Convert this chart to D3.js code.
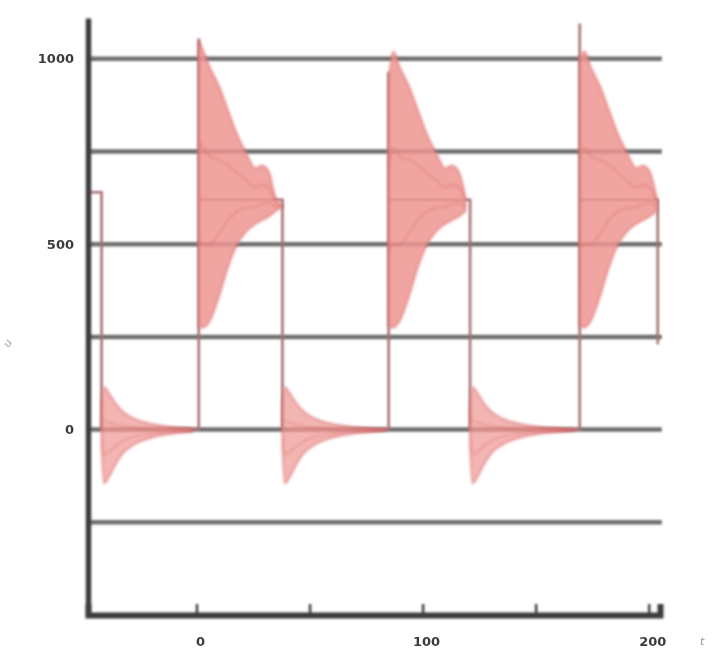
<!DOCTYPE html>
<html>
<head>
<meta charset="utf-8">
<script src="https://cdn.jsdelivr.net/npm/d3@7"></script>
<style>
  body { margin: 0; background: #fff; }
  svg { display: block; }
  .tick-label { font-family: "DejaVu Sans", sans-serif; font-size: 13px; font-weight: bold; fill: #3a3a3a; }
</style>
</head>
<body>
<svg id="chart" width="713" height="661"></svg>
<script>
// edges of the square wave (time units)
const riseTimes = [1, 85, 169.5];
const dropTimes = [-42, 38, 121, 204];
const risePeaks = [1055, 965, 1095];   // how far the rising edge shoots up
const envPeaks = [1050, 940, 1000];    // top of the red ringing right after each rise
const highLevel = 620;
const lowLevel = 0;
const startLevel = 640;
const endLevel = 230;

// ringing envelope after a rise: [dt, upper, lower]
const highEnvelope = [
  [0, 1050, 280], [2, 1020, 275], [5, 975, 295], [9, 925, 360],
  [13, 860, 440], [17, 795, 500], [21, 745, 535], [25, 705, 555],
  [28, 712, 565], [31, 695, 575], [34, 625, 590], [37, 605, 600]
];
// ringing envelope after a drop: [dt, upper, lower]
const lowEnvelope = [
  [0, 60, -40], [1, 115, -145], [3, 100, -130], [6, 72, -95],
  [10, 45, -60], [15, 28, -38], [22, 15, -22], [30, 8, -12],
  [40, 3, -6], [46, 1, -3]
];

const gridValues = [-250, 0, 250, 500, 750, 1000];
const yTickLabels = [0, 500, 1000];
const xTickValues = [0, 50, 100, 150, 200];
const xTickLabels = [0, 100, 200];

const svg = d3.select('#chart');
const defs = svg.append('defs');
defs.append('filter').attr('id', 'soft')
  .attr('x', '-5%').attr('y', '-5%').attr('width', '110%').attr('height', '110%')
  .append('feGaussianBlur').attr('stdDeviation', 1.3);
defs.append('filter').attr('id', 'softRed')
  .attr('x', '-10%').attr('y', '-10%').attr('width', '120%').attr('height', '120%')
  .append('feGaussianBlur').attr('stdDeviation', 1.8);
defs.append('filter').attr('id', 'softText')
  .append('feGaussianBlur').attr('stdDeviation', 0.7);

const x = d3.scaleLinear().domain([-48, 205]).range([88, 660]);
const y = d3.scaleLinear().domain([-500, 1110]).range([615, 18]);

const g = svg.append('g').attr('filter', 'url(#soft)');

// horizontal grid
g.selectAll('.grid')
  .data(gridValues)
  .enter()
  .append('line')
  .attr('class', 'grid')
  .attr('x1', x(-48)).attr('x2', x(205.8))
  .attr('y1', d => y(d)).attr('y2', d => y(d))
  .attr('stroke', '#6e6e6e')
  .attr('stroke-width', 4.5);

// the square wave itself (under the ringing)
const wave = [[-47.3, startLevel], [dropTimes[0], startLevel], [dropTimes[0], lowLevel]];
riseTimes.forEach((t, i) => {
  wave.push([t, lowLevel], [t, risePeaks[i]], [t, highLevel]);
  const d = dropTimes[i + 1];
  wave.push([d, highLevel], [d, i === riseTimes.length - 1 ? endLevel : lowLevel]);
});

g.append('path')
  .datum(wave)
  .attr('d', d3.line().x(d => x(d[0])).y(d => y(d[1])))
  .attr('fill', 'none')
  .attr('stroke', '#a66f72')
  .attr('stroke-width', 2.6);

// red ringing areas
const area = d3.area()
  .x(d => x(d[0]))
  .y0(d => y(d[2]))
  .y1(d => y(d[1]))
  .curve(d3.curveMonotoneX);

const streak = k => d3.line()
  .x(d => x(d[0]))
  .y(d => y(d[2] + (d[1] - d[2]) * k))
  .curve(d3.curveMonotoneX);

const bursts = [];
riseTimes.forEach((t0, i) => {
  const end = dropTimes.find(t => t > t0);
  const pts = highEnvelope
    .filter(p => t0 + p[0] <= end)
    .map((p, j) => [t0 + p[0], j === 0 ? envPeaks[i] : p[1], p[2]]);
  pts.high = true;
  bursts.push(pts);
});
dropTimes.forEach(t0 => {
  const end = riseTimes.find(t => t > t0);
  if (end === undefined) return;
  const pts = lowEnvelope
    .filter(p => t0 + p[0] <= end)
    .map(p => [t0 + p[0], p[1], p[2]]);
  pts.high = false;
  bursts.push(pts);
});

const red = svg.append('g').attr('filter', 'url(#softRed)');

red.selectAll('.burst')
  .data(bursts)
  .enter()
  .append('path')
  .attr('class', 'burst')
  .attr('d', area)
  .attr('fill', '#ee9591')
  .attr('fill-opacity', d => d.high ? 0.85 : 0.7)
  .attr('stroke', '#d9676a')
  .attr('stroke-opacity', 0.8)
  .attr('stroke-width', 1.5);

[0.3, 0.65].forEach(k => {
  red.selectAll('.streak-' + Math.round(k * 100))
    .data(bursts)
    .enter()
    .append('path')
    .attr('d', streak(k))
    .attr('fill', 'none')
    .attr('stroke', '#d8625f')
    .attr('stroke-opacity', 0.55)
    .attr('stroke-width', 1.2);
});

// axes (drawn after the ringing so they stay on top)
const axes = svg.append('g').attr('filter', 'url(#soft)');
const yAxis = axes.append('g').attr('transform', `translate(${x(-48)},0)`)
  .call(d3.axisLeft(y).tickValues([]).tickSize(0));
yAxis.select('.domain').attr('stroke', '#3c3c3c').attr('stroke-width', 5.5);

const xAxis = axes.append('g').attr('transform', `translate(0,${y(-500)})`)
  .call(d3.axisBottom(x).tickValues(xTickValues).tickSize(-11).tickFormat(''));
xAxis.select('.domain').attr('stroke', '#3c3c3c').attr('stroke-width', 6);
xAxis.selectAll('.tick line').attr('stroke', '#3c3c3c').attr('stroke-width', 2.5);

// tick labels
const labels = svg.append('g').attr('filter', 'url(#softText)');
labels.selectAll('.ylab')
  .data(yTickLabels)
  .enter()
  .append('text')
  .attr('class', 'tick-label ylab')
  .attr('x', 74)
  .attr('y', d => y(d))
  .attr('dy', '0.35em')
  .attr('text-anchor', 'end')
  .text(d => d);

labels.selectAll('.xlab')
  .data(xTickLabels)
  .enter()
  .append('text')
  .attr('class', 'tick-label xlab')
  .attr('x', d => x(d) + 4)
  .attr('y', 646)
  .attr('text-anchor', 'middle')
  .text(d => d);

// faint axis names
labels.append('text')
  .attr('x', 700).attr('y', 645)
  .attr('font-family', 'DejaVu Sans, sans-serif')
  .attr('font-size', 11).attr('font-style', 'italic')
  .attr('fill', '#9a9a9a')
  .text('t');
labels.append('text')
  .attr('transform', 'translate(9,348) rotate(-60)')
  .attr('font-family', 'DejaVu Sans, sans-serif')
  .attr('font-size', 11).attr('font-style', 'italic')
  .attr('fill', '#9a9a9a')
  .text('u');
</script>
</body>
</html>
